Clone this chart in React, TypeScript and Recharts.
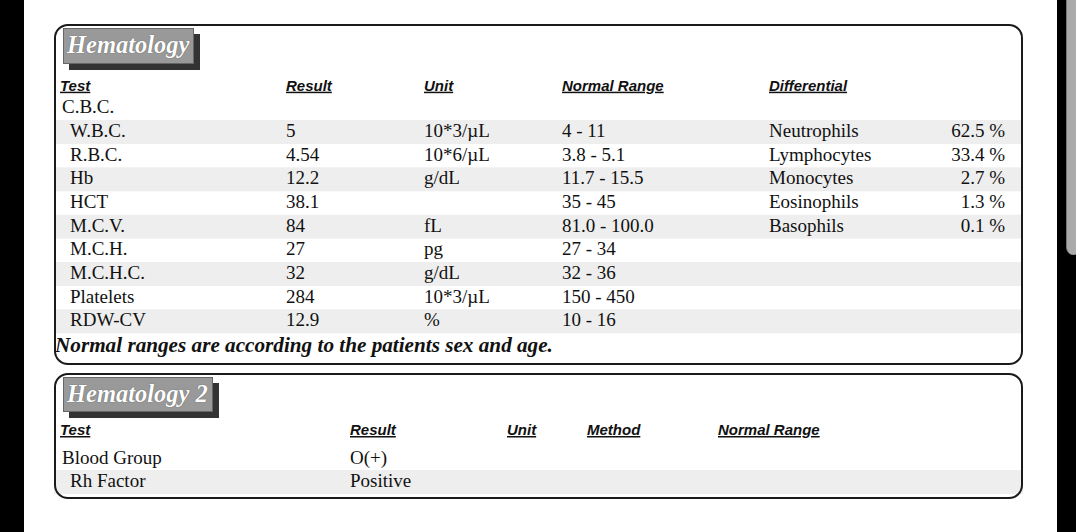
import React from 'react';
import { BarChart, Bar, XAxis, YAxis } from 'recharts';

// C.B.C. table
const cbcTests = ['C.B.C.', 'W.B.C.', 'R.B.C.', 'Hb', 'HCT', 'M.C.V.', 'M.C.H.', 'M.C.H.C.', 'Platelets', 'RDW-CV'];
const cbcResults = ['', '5', '4.54', '12.2', '38.1', '84', '27', '32', '284', '12.9'];
const cbcUnits = ['', '10*3/µL', '10*6/µL', 'g/dL', '', 'fL', 'pg', 'g/dL', '10*3/µL', '%'];
const cbcRanges = ['', '4 - 11', '3.8 - 5.1', '11.7 - 15.5', '35 - 45', '81.0 - 100.0', '27 - 34', '32 - 36', '150 - 450', '10 - 16'];
const diffNames = ['Neutrophils', 'Lymphocytes', 'Monocytes', 'Eosinophils', 'Basophils'];
const diffPercent = [62.5, 33.4, 2.7, 1.3, 0.1];
const cbcHeaders = ['Test', 'Result', 'Unit', 'Normal Range', 'Differential'];

// Hematology 2 table
const h2Tests = ['Blood Group', 'Rh Factor'];
const h2Results = ['O(+)', 'Positive'];
const h2Headers = ['Test', 'Result', 'Unit', 'Method', 'Normal Range'];

const W = 969;
const cbcCols = [6, 232, 370, 508, 715];
const h2Cols = [6, 296, 453, 533, 664];
const pctRight = 951;

const serif = "'Liberation Serif', 'Times New Roman', serif";
const sans = "'Liberation Sans', Arial, sans-serif";

const cbcData = cbcTests.map((test, i) => ({
  test,
  indent: i > 0,
  result: cbcResults[i],
  unit: cbcUnits[i],
  range: cbcRanges[i],
  diff: diffNames[i - 1] ?? '',
  pct: diffPercent[i - 1],
  span: W,
}));

const h2Data = h2Tests.map((test, i) => ({
  test,
  indent: i > 0,
  result: h2Results[i],
  span: W,
}));

const HeaderTick = (props: any) => {
  const { x, y, payload, labels, cols } = props;
  return (
    <text
      x={x}
      y={y}
      fontFamily={sans}
      fontSize={15}
      fontWeight="bold"
      fontStyle="italic"
      fill="#111"
      style={{ textDecoration: 'underline' }}
    >
      {labels[cols.indexOf(payload.value)]}
    </text>
  );
};

const cellText = (x: number, y: number, s: string, anchor: string = 'start') => (
  <text x={x} y={y} fontFamily={serif} fontSize={19} fill="#111" textAnchor={anchor}>
    {s}
  </text>
);

const CbcRow = (props: any) => {
  const { x, y, height, index, test, indent, result, unit, range, diff, pct } = props;
  const base = y + height / 2 + 5;
  return (
    <g>
      {index % 2 === 1 && <rect x={x} y={y} width={W} height={height} fill="#eeeeee" />}
      {cellText(x + cbcCols[0] + (indent ? 10 : 2), base, test)}
      {cellText(x + cbcCols[1], base, result)}
      {cellText(x + cbcCols[2], base, unit)}
      {cellText(x + cbcCols[3], base, range)}
      {cellText(x + cbcCols[4], base, diff)}
      {pct != null && cellText(x + pctRight, base, `${pct} %`, 'end')}
    </g>
  );
};

const H2Row = (props: any) => {
  const { x, y, height, index, test, indent, result } = props;
  const base = y + height / 2 + 5;
  return (
    <g>
      {index % 2 === 1 && <rect x={x} y={y} width={W} height={height} fill="#eeeeee" />}
      {cellText(x + h2Cols[0] + (indent ? 10 : 2), base, test)}
      {cellText(x + h2Cols[1], base, result)}
    </g>
  );
};

const frame = (top: number, height: number): React.CSSProperties => ({
  position: 'absolute',
  left: 54,
  top,
  width: W,
  height,
  boxSizing: 'border-box',
  border: '2px solid #1a1a1a',
  borderRadius: 14,
  pointerEvents: 'none',
});

const titleBox = (top: number, width: number, height: number): React.CSSProperties => ({
  position: 'absolute',
  left: 63,
  top,
  width,
  height,
  boxSizing: 'border-box',
  background: '#999',
  border: '1px solid #666',
  boxShadow: '6px 6px 0 #333',
  color: '#fff',
  fontFamily: serif,
  fontWeight: 'bold',
  fontStyle: 'italic',
  fontSize: 24.5,
  lineHeight: `${height - 4}px`,
  paddingLeft: 3,
  textShadow: '0 0 1px #444',
  whiteSpace: 'nowrap',
});

export default function App() {
  return (
    <div style={{ position: 'fixed', left: 0, top: 0, width: 1076, height: 532, background: '#fff', overflow: 'hidden' }}>
      <div style={{ position: 'absolute', left: 0, top: 0, width: 24, height: 532, background: '#000' }} />
      <div style={{ position: 'absolute', left: 1057, top: 0, width: 19, height: 532, background: '#000' }} />
      <div style={{ position: 'absolute', left: 1066, top: -10, width: 14, height: 265, background: '#aaa', borderLeft: '1px solid #777', borderRadius: 8 }} />

      <div style={{ position: 'absolute', left: 54, top: 24 }}>
        <BarChart
          width={W}
          height={340}
          data={cbcData}
          layout="vertical"
          margin={{ top: 42.3, right: 0, bottom: 31, left: 0 }}
          barCategoryGap={0}
        >
          <XAxis
            type="number"
            orientation="top"
            domain={[0, W]}
            ticks={cbcCols}
            interval={0}
            axisLine={false}
            tickLine={false}
            tickSize={0}
            tickMargin={5.6}
            height={30}
            tick={(p: any) => <HeaderTick {...p} labels={cbcHeaders} cols={cbcCols} />}
          />
          <YAxis type="category" dataKey="test" hide />
          <Bar dataKey="span" isAnimationActive={false} shape={(p: any) => <CbcRow {...p} />} />
        </BarChart>
      </div>
      <div style={{ position: 'absolute', left: 55, top: 332, fontFamily: serif, fontSize: 21.2, fontWeight: 'bold', fontStyle: 'italic', color: '#111', whiteSpace: 'nowrap', lineHeight: '26px' }}>
        Normal ranges are according to the patients sex and age.
      </div>
      <div style={frame(24, 341)} />
      <div style={titleBox(28, 131, 36)}>Hematology</div>

      <div style={{ position: 'absolute', left: 54, top: 373 }}>
        <BarChart
          width={W}
          height={125}
          data={h2Data}
          layout="vertical"
          margin={{ top: 43.5, right: 0, bottom: 4.5, left: 0 }}
          barCategoryGap={0}
        >
          <XAxis
            type="number"
            orientation="top"
            domain={[0, W]}
            ticks={h2Cols}
            interval={0}
            axisLine={false}
            tickLine={false}
            tickSize={0}
            tickMargin={11.5}
            height={30}
            tick={(p: any) => <HeaderTick {...p} labels={h2Headers} cols={h2Cols} />}
          />
          <YAxis type="category" dataKey="test" hide />
          <Bar dataKey="span" isAnimationActive={false} shape={(p: any) => <H2Row {...p} />} />
        </BarChart>
      </div>
      <div style={frame(373, 126)} />
      <div style={titleBox(377, 150, 35)}>Hematology 2</div>
    </div>
  );
}
